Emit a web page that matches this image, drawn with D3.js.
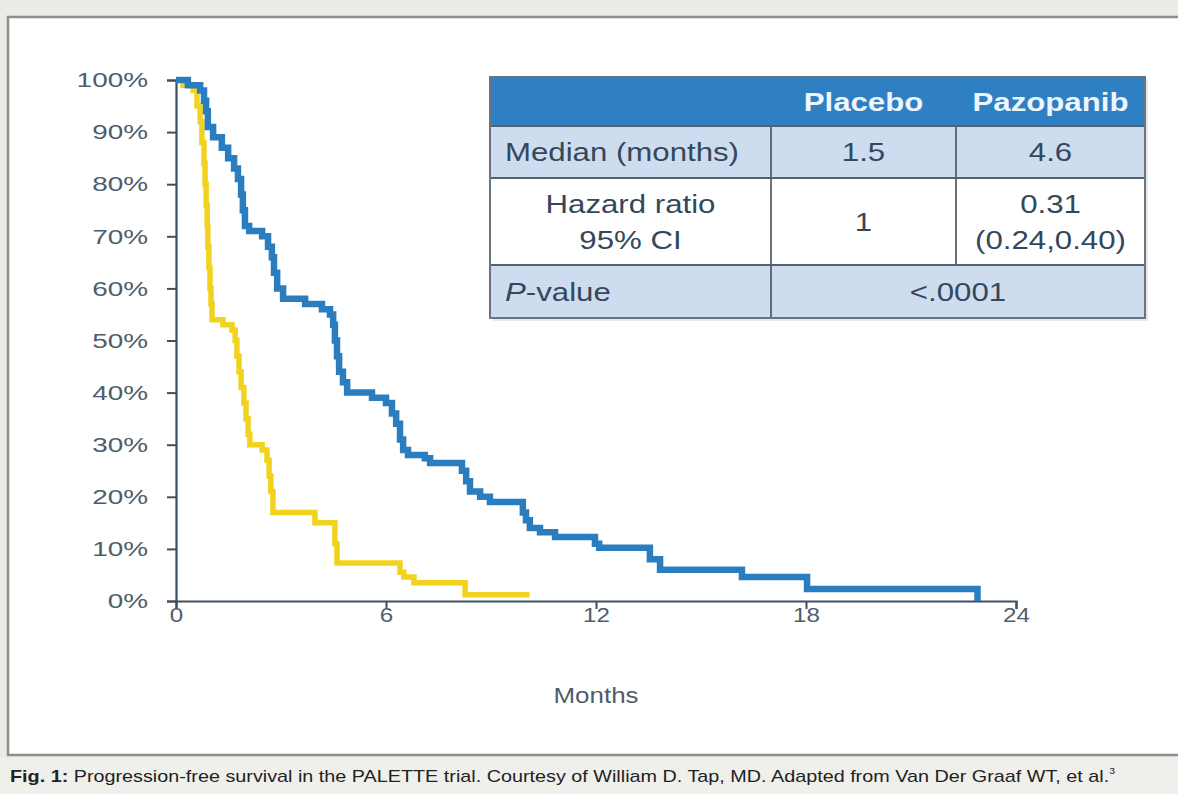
<!DOCTYPE html>
<html lang="en">
<head>
<meta charset="UTF-8">
<title>PALETTE PFS</title>
<script src="https://d3js.org/d3.v7.min.js"></script>
<style>
    body { margin: 0; background: #ebebe7; }
    svg { display: block; font-family: "Liberation Sans", Arial, sans-serif; }
</style>
</head>
<body>
<svg width="1178" height="794"></svg>
<script>
    // ---- data ----
    const monthTicks = [0, 6, 12, 18, 24];
    const pctTicks = [0, 10, 20, 30, 40, 50, 60, 70, 80, 90, 100];

    // Pazopanib (blue): time of each drop (months) and survival after it (%)
    const pazopanibTimes = [0, 0.34, 0.69, 0.8, 0.86, 0.91, 1.06, 1.31, 1.49, 1.66, 1.77, 1.86, 1.91, 1.97, 2.09,
        2.46, 2.63, 2.74, 2.8, 2.89, 3.06, 3.69, 4.17, 4.4, 4.49, 4.54, 4.6, 4.66, 4.77, 4.89, 5.6, 6.0, 6.17,
        6.29, 6.4, 6.49, 6.63, 7.11, 7.26, 8.17, 8.29, 8.4, 8.69, 8.97, 9.91, 10.0, 10.11, 10.4, 10.83, 11.97,
        12.09, 13.54, 13.83, 16.17, 18.03, 22.9];
    const pazopanibSurv = [100, 99, 98, 96, 94, 91, 89, 87, 85, 83, 81, 78, 75, 72, 71,
        70, 68, 66, 63, 60, 58, 57, 56, 55, 53, 50, 47, 44, 42, 40, 39, 38, 36,
        34, 31, 29, 28, 27.4, 26.5, 25, 23, 21, 20, 19, 17, 15.5, 14, 13.2, 12.3, 11,
        10.2, 8, 6, 4.6, 2.3, 0];

    // Placebo (yellow)
    const placeboTimes = [0, 0.2, 0.49, 0.6, 0.69, 0.74, 0.8, 0.83, 0.86, 0.89, 0.91, 0.94, 0.97, 1.0, 1.03,
        1.34, 1.6, 1.69, 1.74, 1.8, 1.86, 1.94, 2.0, 2.06, 2.11, 2.46, 2.6, 2.66, 2.71, 2.77, 3.97, 4.54,
        4.6, 6.4, 6.51, 6.8, 8.26, 10.1];
    const placeboSurv = [100, 99, 98, 95, 92, 88, 84, 80, 76, 72, 68, 64, 60, 57, 54,
        53, 52, 50, 47, 44, 41, 38, 35, 32, 30, 29, 27, 24, 21, 17, 15, 11,
        7.3, 5.5, 4.6, 3.5, 1.2, 1.2];

    // inset table
    const tableHeader = ["", "Placebo", "Pazopanib"];
    const medianRow = ["Median (months)", "1.5", "4.6"];
    const hazardRow = [["Hazard ratio", "95% CI"], ["1"], ["0.31", "(0.24,0.40)"]];
    const pValueRow = ["P-value", "<.0001"];

    const xLabel = "Months";
    const caption = ["Fig. 1:", " Progression-free survival in the PALETTE trial. Courtesy of William D. Tap, MD. Adapted from Van Der Graaf WT, et al.", "3"];

    // ---- drawing ----
    const svg = d3.select("svg");

    // frame
    svg.append("rect").attr("x", 0).attr("y", 0).attr("width", 1178).attr("height", 794).attr("fill", "#ebebe7");
    svg.append("rect").attr("x", 8).attr("y", 17).attr("width", 1175).attr("height", 738)
        .attr("fill", "#fff").attr("stroke", "#8d8d89").attr("stroke-width", 2.5);

    const x = d3.scaleLinear().domain([0, 24]).range([176, 1016]);
    const y = d3.scaleLinear().domain([0, 100]).range([601, 80]);

    const axisColor = "#3d4f63";
    const labelColor = "#4f5d6b";

    const ySx = 1.33;
    const yAxis = svg.append("g").attr("transform", `translate(${x(0)},0)`)
        .call(d3.axisLeft(y).tickValues(pctTicks).tickSize(9).tickPadding(19).tickFormat(d => d + "%"));
    yAxis.select(".domain").attr("stroke", axisColor).attr("stroke-width", 2.2);
    yAxis.selectAll(".tick line").attr("stroke", axisColor).attr("stroke-width", 2);
    yAxis.selectAll(".tick text")
        .attr("x", -28 / ySx).attr("transform", `scale(${ySx},1)`)
        .attr("font-size", 21).attr("fill", labelColor);

    const xSx = 1.15;
    const xAxis = svg.append("g").attr("transform", `translate(0,${y(0)})`)
        .call(d3.axisBottom(x).tickValues(monthTicks).tickSize(8).tickPadding(-2));
    xAxis.select(".domain").attr("stroke", axisColor).attr("stroke-width", 2.2);
    xAxis.selectAll(".tick line").attr("stroke", axisColor).attr("stroke-width", 2);
    xAxis.selectAll(".tick text").attr("transform", `scale(${xSx},1)`)
        .attr("font-size", 21).attr("fill", labelColor);

    svg.append("text")
        .attr("transform", `translate(${x(12)},703) scale(1.18,1)`)
        .attr("text-anchor", "middle").attr("font-size", 22).attr("fill", labelColor)
        .text(xLabel);

    // KM curves
    const line = d3.line().x(d => x(d[0])).y(d => y(d[1])).curve(d3.curveStepAfter);
    const placebo = placeboTimes.map((t, i) => [t, placeboSurv[i]]);
    const pazopanib = pazopanibTimes.map((t, i) => [t, pazopanibSurv[i]]);

    svg.append("path").datum(placebo).attr("d", line)
        .attr("fill", "none").attr("stroke", "#f1d31f").attr("stroke-width", 5.5);
    svg.append("path").datum(pazopanib).attr("d", line)
        .attr("fill", "none").attr("stroke", "#2a7dbf").attr("stroke-width", 6.5);

    // table
    const colEdges = [490, 771, 956, 1145];
    const rowEdges = [77, 126, 178, 265, 318];
    const tColor = "#34475b";
    const tSx = 1.2;
    const tbl = svg.append("g");

    tbl.append("rect").attr("x", colEdges[0] + 3).attr("y", rowEdges[0] + 3)
        .attr("width", colEdges[3] - colEdges[0]).attr("height", rowEdges[4] - rowEdges[0])
        .attr("fill", "#e6e8ea");
    const rowFills = ["#2f80c3", "#cddcef", "#ffffff", "#cddcef"];
    rowFills.forEach((f, i) => {
        tbl.append("rect").attr("x", colEdges[0]).attr("y", rowEdges[i])
            .attr("width", colEdges[3] - colEdges[0]).attr("height", rowEdges[i + 1] - rowEdges[i])
            .attr("fill", f);
    });
    // grid lines
    const gridColor = "#56616d";
    rowEdges.slice(1, 4).forEach(r => {
        tbl.append("line").attr("x1", colEdges[0]).attr("x2", colEdges[3]).attr("y1", r).attr("y2", r)
            .attr("stroke", gridColor).attr("stroke-width", 1.8);
    });
    tbl.append("line").attr("x1", colEdges[1]).attr("x2", colEdges[1]).attr("y1", rowEdges[1]).attr("y2", rowEdges[4])
        .attr("stroke", gridColor).attr("stroke-width", 1.8);
    tbl.append("line").attr("x1", colEdges[2]).attr("x2", colEdges[2]).attr("y1", rowEdges[1]).attr("y2", rowEdges[3])
        .attr("stroke", gridColor).attr("stroke-width", 1.8);
    tbl.append("rect").attr("x", colEdges[0]).attr("y", rowEdges[0])
        .attr("width", colEdges[3] - colEdges[0]).attr("height", rowEdges[4] - rowEdges[0])
        .attr("fill", "none").attr("stroke", "#6b7580").attr("stroke-width", 2);

    function cellText(str, cx, cy, anchor, opts = {}) {
        return tbl.append("text")
            .attr("transform", `translate(${cx},${cy}) scale(${tSx},1)`)
            .attr("text-anchor", anchor).attr("dy", "0.36em")
            .attr("font-size", opts.size || 26)
            .attr("font-weight", opts.weight || "normal")
            .attr("fill", opts.fill || tColor)
            .text(str);
    }
    const colMid = i => (colEdges[i] + colEdges[i + 1]) / 2;
    const rowMid = i => (rowEdges[i] + rowEdges[i + 1]) / 2;

    tableHeader.forEach((h, i) => {
        if (h) cellText(h, colMid(i), rowMid(0), "middle", { weight: "bold", fill: "#eef5fc", size: 26 });
    });
    cellText(medianRow[0], colEdges[0] + 15, rowMid(1), "start");
    cellText(medianRow[1], colMid(1), rowMid(1), "middle");
    cellText(medianRow[2], colMid(2), rowMid(1), "middle");
    hazardRow.forEach((lines, i) => {
        lines.forEach((s, j) => {
            const off = lines.length === 1 ? 0 : (j === 0 ? -18 : 18);
            cellText(s, colMid(i), rowMid(2) + off, "middle");
        });
    });
    const pText = tbl.append("text")
        .attr("transform", `translate(${colEdges[0] + 15},${rowMid(3)}) scale(${tSx},1)`)
        .attr("dy", "0.36em").attr("font-size", 26).attr("fill", tColor);
    pText.append("tspan").attr("font-style", "italic").text(pValueRow[0].slice(0, 1));
    pText.append("tspan").text(pValueRow[0].slice(1));
    cellText(pValueRow[1], (colEdges[1] + colEdges[3]) / 2, rowMid(3), "middle");

    // caption
    svg.append("rect").attr("x", 0).attr("y", 757).attr("width", 1178).attr("height", 37).attr("fill", "#efefeb");
    const cap = svg.append("text").attr("x", 10).attr("y", 782)
        .attr("font-size", 17).attr("fill", "#222")
        .attr("textLength", 1105).attr("lengthAdjust", "spacingAndGlyphs");
    cap.append("tspan").attr("font-weight", "bold").text(caption[0]);
    cap.append("tspan").text(caption[1]);
    cap.append("tspan").attr("font-size", 9).attr("dy", -8).text(caption[2]);
</script>
</body>
</html>
